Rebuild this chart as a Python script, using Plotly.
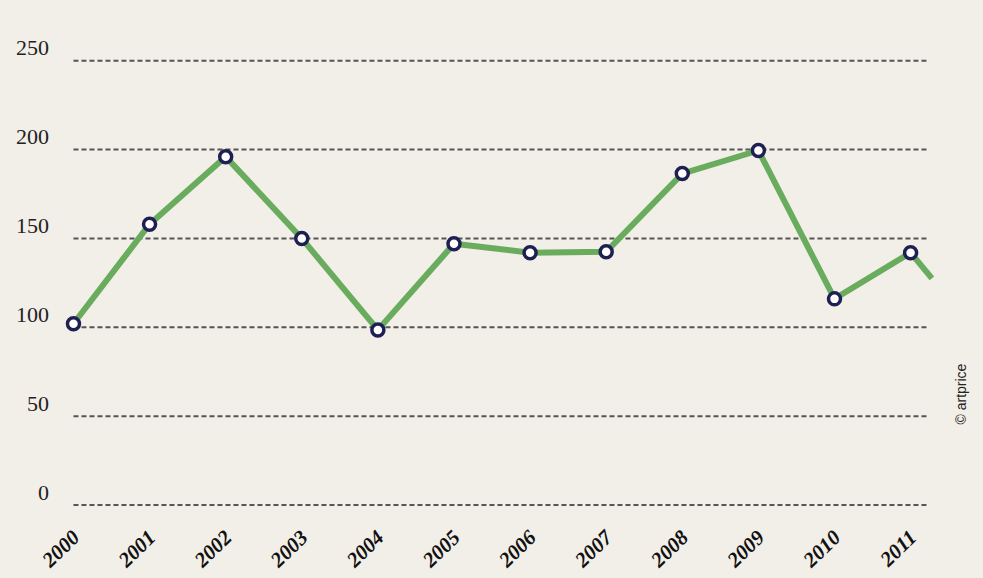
import plotly.graph_objects as go

years = [2000, 2001, 2002, 2003, 2004, 2005, 2006, 2007, 2008, 2009, 2010, 2011]
values = [102, 158, 196, 150, 98.5, 147, 142, 142.5, 186.5, 199.5, 116, 142]
tail_x = 2011.28
tail_value = 127.5
y_ticks = [0, 50, 100, 150, 200, 250]
grid_end = 2011.21
credit = "© artprice"

BG = "#f2eee8"
GREEN = "#6aac5e"
NAVY = "#1e2054"

fig = go.Figure()
fig.add_trace(go.Scatter(
    x=years + [tail_x], y=values + [tail_value], mode="lines",
    line=dict(color=GREEN, width=6), hoverinfo="skip", cliponaxis=False))
fig.add_trace(go.Scatter(
    x=years, y=values, mode="markers",
    marker=dict(size=12, color="white", line=dict(color=NAVY, width=3.5)),
    cliponaxis=False))

for t in y_ticks:
    fig.add_shape(type="line", xref="x", yref="y", x0=years[0], x1=grid_end,
                  y0=t, y1=t, layer="below",
                  line=dict(color="#555555", width=2, dash="5px,3px"))

fig.add_annotation(text=credit, xref="paper", yref="paper",
                   x=(970 - 60) / 885, y=(520 - 427) / 490,
                   textangle=-90, showarrow=False,
                   font=dict(family="Liberation Sans, Arial", size=14, color="#222222"))

fig.update_layout(
    width=983, height=578,
    margin=dict(l=60, r=38, t=30, b=58),
    paper_bgcolor=BG, plot_bgcolor=BG,
    showlegend=False,
    xaxis=dict(range=[1999.823, 2011.452], tickvals=years,
               ticktext=[f"<b><i>{y}</i></b>" for y in years],
               tickangle=-44, showgrid=False, zeroline=False, showline=False,
               ticks="", ticklabelstandoff=0, automargin=False,
               tickfont=dict(family="Liberation Serif, Times New Roman", size=21, color="#111111")),
    yaxis=dict(range=[-8.44, 267.3], tickvals=y_ticks,
               showgrid=False, zeroline=False, showline=False, ticks="",
               ticklabelshift=-13, ticklabelstandoff=10, automargin=False,
               tickfont=dict(family="Liberation Serif, Times New Roman", size=22, color="#222222")),
)

fig.write_html("out.html", config={"displayModeBar": False},
               post_script="document.body.style.margin='0';document.body.style.background='" + BG + "';")
